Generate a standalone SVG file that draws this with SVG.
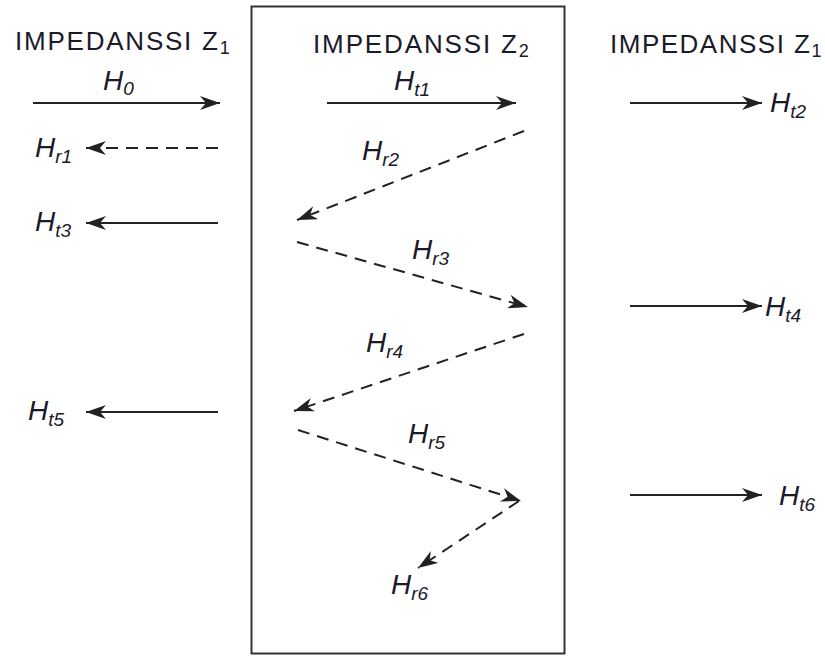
<svg xmlns="http://www.w3.org/2000/svg" width="825" height="657" viewBox="0 0 825 657">
<defs>
<style>
.ttl{font-family:"Liberation Sans",Arial,sans-serif;font-size:26px;fill:#1a1a2a}
.sub{font-size:18px}
.lbl{font-family:"Liberation Sans",Arial,sans-serif;font-style:italic;font-size:28px;fill:#1a1a2a}
.ls{font-size:19px}
.sol{stroke:#222;stroke-width:2;fill:none;marker-end:url(#ah)}
.dsh{stroke:#222;stroke-width:2;fill:none;stroke-dasharray:12 8;marker-end:url(#ah)}
</style>
<marker id="ah" markerUnits="userSpaceOnUse" markerWidth="22" markerHeight="14" refX="20" refY="7" orient="auto" viewBox="0 0 22 14">
<path d="M0,0 L20,7 L0,14 L6,7 Z" fill="#222"/>
</marker>
</defs>
<rect x="251.5" y="6.5" width="313" height="647" fill="none" stroke="#333" stroke-width="2"/>
<g id="titles">
<text class="ttl" x="15" y="50"><tspan textLength="203" lengthAdjust="spacing">IMPEDANSSI Z</tspan><tspan class="sub" dy="4">1</tspan></text>
<text class="ttl" x="313" y="53"><tspan textLength="204" lengthAdjust="spacing">IMPEDANSSI Z</tspan><tspan class="sub" dy="4">2</tspan></text>
<text class="ttl" x="610" y="53"><tspan textLength="200" lengthAdjust="spacing">IMPEDANSSI Z</tspan><tspan class="sub" dy="4">1</tspan></text>
</g>
<g id="connectors">
<line class="sol" x1="33" y1="103" x2="220" y2="103"/>
<line class="dsh" x1="218" y1="148" x2="86" y2="148"/>
<line class="sol" x1="218" y1="223" x2="86" y2="223"/>
<line class="sol" x1="218" y1="412" x2="86" y2="412"/>
<line class="sol" x1="327" y1="103" x2="516" y2="103"/>
<line class="dsh" x1="524" y1="131" x2="297" y2="220"/>
<line class="dsh" x1="297" y1="242" x2="528" y2="307"/>
<line class="dsh" x1="524" y1="334" x2="294" y2="411"/>
<line class="dsh" x1="298" y1="430" x2="521" y2="501"/>
<line class="dsh" x1="519" y1="501" x2="418" y2="568"/>
<line class="sol" x1="630" y1="103" x2="762" y2="103"/>
<line class="sol" x1="630" y1="306" x2="762" y2="306"/>
<line class="sol" x1="630" y1="495" x2="762" y2="495"/>
</g>
<g id="H0"><text class="lbl" x="103" y="90">H<tspan class="ls" dy="5">0</tspan></text></g>
<g id="Hr1"><text class="lbl" x="35" y="157">H<tspan class="ls" dy="6">r1</tspan></text></g>
<g id="Ht3"><text class="lbl" x="35" y="231">H<tspan class="ls" dy="6">t3</tspan></text></g>
<g id="Ht5"><text class="lbl" x="28" y="420">H<tspan class="ls" dy="6">t5</tspan></text></g>
<g id="Ht1"><text class="lbl" x="394" y="90">H<tspan class="ls" dy="6">t1</tspan></text></g>
<g id="Hr2"><text class="lbl" x="362" y="160">H<tspan class="ls" dy="6">r2</tspan></text></g>
<g id="Hr3"><text class="lbl" x="412" y="259">H<tspan class="ls" dy="6">r3</tspan></text></g>
<g id="Hr4"><text class="lbl" x="366" y="352">H<tspan class="ls" dy="6">r4</tspan></text></g>
<g id="Hr5"><text class="lbl" x="408" y="443">H<tspan class="ls" dy="6">r5</tspan></text></g>
<g id="Hr6"><text class="lbl" x="391" y="594">H<tspan class="ls" dy="6">r6</tspan></text></g>
<g id="Ht2"><text class="lbl" x="770" y="112">H<tspan class="ls" dy="6">t2</tspan></text></g>
<g id="Ht4"><text class="lbl" x="765" y="316">H<tspan class="ls" dy="6">t4</tspan></text></g>
<g id="Ht6"><text class="lbl" x="779" y="505">H<tspan class="ls" dy="6">t6</tspan></text></g>
</svg>
